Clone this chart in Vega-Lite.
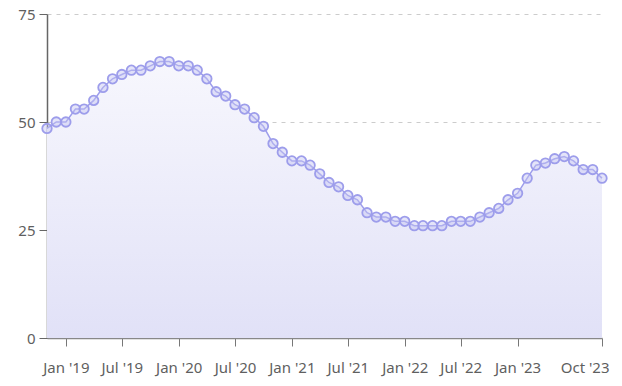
{
  "$schema": "https://vega.github.io/schema/vega-lite/v6.json",
  "width": 555,
  "height": 324,
  "autosize": "none",
  "padding": {"left": 47, "top": 14, "right": 20, "bottom": 48},
  "background": "white",
  "config": {
    "view": {"stroke": null},
    "font": "Noto Sans"
  },
  "data": {
    "values": [
      {"date": "2018-11-01", "value": 48.5},
      {"date": "2018-12-01", "value": 50},
      {"date": "2019-01-01", "value": 50},
      {"date": "2019-02-01", "value": 53},
      {"date": "2019-03-01", "value": 53},
      {"date": "2019-04-01", "value": 55},
      {"date": "2019-05-01", "value": 58},
      {"date": "2019-06-01", "value": 60},
      {"date": "2019-07-01", "value": 61},
      {"date": "2019-08-01", "value": 62},
      {"date": "2019-09-01", "value": 62},
      {"date": "2019-10-01", "value": 63},
      {"date": "2019-11-01", "value": 64},
      {"date": "2019-12-01", "value": 64},
      {"date": "2020-01-01", "value": 63},
      {"date": "2020-02-01", "value": 63},
      {"date": "2020-03-01", "value": 62},
      {"date": "2020-04-01", "value": 60},
      {"date": "2020-05-01", "value": 57},
      {"date": "2020-06-01", "value": 56},
      {"date": "2020-07-01", "value": 54},
      {"date": "2020-08-01", "value": 53},
      {"date": "2020-09-01", "value": 51},
      {"date": "2020-10-01", "value": 49},
      {"date": "2020-11-01", "value": 45},
      {"date": "2020-12-01", "value": 43},
      {"date": "2021-01-01", "value": 41},
      {"date": "2021-02-01", "value": 41},
      {"date": "2021-03-01", "value": 40},
      {"date": "2021-04-01", "value": 38},
      {"date": "2021-05-01", "value": 36},
      {"date": "2021-06-01", "value": 35},
      {"date": "2021-07-01", "value": 33},
      {"date": "2021-08-01", "value": 32},
      {"date": "2021-09-01", "value": 29},
      {"date": "2021-10-01", "value": 28},
      {"date": "2021-11-01", "value": 28},
      {"date": "2021-12-01", "value": 27},
      {"date": "2022-01-01", "value": 27},
      {"date": "2022-02-01", "value": 26},
      {"date": "2022-03-01", "value": 26},
      {"date": "2022-04-01", "value": 26},
      {"date": "2022-05-01", "value": 26},
      {"date": "2022-06-01", "value": 27},
      {"date": "2022-07-01", "value": 27},
      {"date": "2022-08-01", "value": 27},
      {"date": "2022-09-01", "value": 28},
      {"date": "2022-10-01", "value": 29},
      {"date": "2022-11-01", "value": 30},
      {"date": "2022-12-01", "value": 32},
      {"date": "2023-01-01", "value": 33.5},
      {"date": "2023-02-01", "value": 37},
      {"date": "2023-03-01", "value": 40},
      {"date": "2023-04-01", "value": 40.5},
      {"date": "2023-05-01", "value": 41.5},
      {"date": "2023-06-01", "value": 42},
      {"date": "2023-07-01", "value": 41},
      {"date": "2023-08-01", "value": 39},
      {"date": "2023-09-01", "value": 39},
      {"date": "2023-10-01", "value": 37}
    ]
  },
  "encoding": {
    "x": {
      "field": "date",
      "type": "temporal",
      "scale": {"domain": [{"year": 2018, "month": 11, "date": 1}, {"year": 2023, "month": 10, "date": 1}], "nice": false},
      "axis": {
        "title": null,
        "grid": false,
        "values": [
          {"year": 2019, "month": 1, "date": 1},
          {"year": 2019, "month": 7, "date": 1},
          {"year": 2020, "month": 1, "date": 1},
          {"year": 2020, "month": 7, "date": 1},
          {"year": 2021, "month": 1, "date": 1},
          {"year": 2021, "month": 7, "date": 1},
          {"year": 2022, "month": 1, "date": 1},
          {"year": 2022, "month": 7, "date": 1},
          {"year": 2023, "month": 1, "date": 1},
          {"year": 2023, "month": 10, "date": 1}
        ],
        "format": "%b '%y",
        "labelFontSize": 15,
        "labelColor": "#5f5f5f",
        "labelPadding": 14,
        "labelFlush": true,
        "labelFlushOffset": 7,
        "labelOverlap": false,
        "tickSize": 8,
        "tickColor": "#777777",
        "domainColor": "#888888",
        "domainWidth": 1.5
      }
    },
    "y": {
      "field": "value",
      "type": "quantitative",
      "scale": {"domain": [0, 75], "nice": false},
      "axis": {
        "title": null,
        "values": [0, 25, 50, 75],
        "labelFontSize": 15,
        "labelColor": "#5f5f5f",
        "labelPadding": 4,
        "tickSize": 8,
        "tickColor": "#666666",
        "domainColor": "#666666",
        "domainWidth": 1.5,
        "gridColor": "#cccccc",
        "gridDash": [4, 5],
        "gridWidth": 1
      }
    }
  },
  "layer": [
    {
      "mark": {
        "type": "area",
        "color": {
          "gradient": "linear",
          "x1": 0, "y1": 0, "x2": 0, "y2": 1,
          "stops": [
            {"offset": 0, "color": "#f7f7fd"},
            {"offset": 1, "color": "#e1e1f7"}
          ]
        }
      }
    },
    {
      "mark": {"type": "line", "color": "#9d9deb", "strokeWidth": 1.5}
    },
    {
      "mark": {
        "type": "point",
        "shape": "circle",
        "size": 90,
        "filled": true,
        "fill": "#c4c4f2",
        "fillOpacity": 0.45,
        "stroke": "#9d9deb",
        "strokeWidth": 1.8,
        "opacity": 1
      }
    }
  ]
}
